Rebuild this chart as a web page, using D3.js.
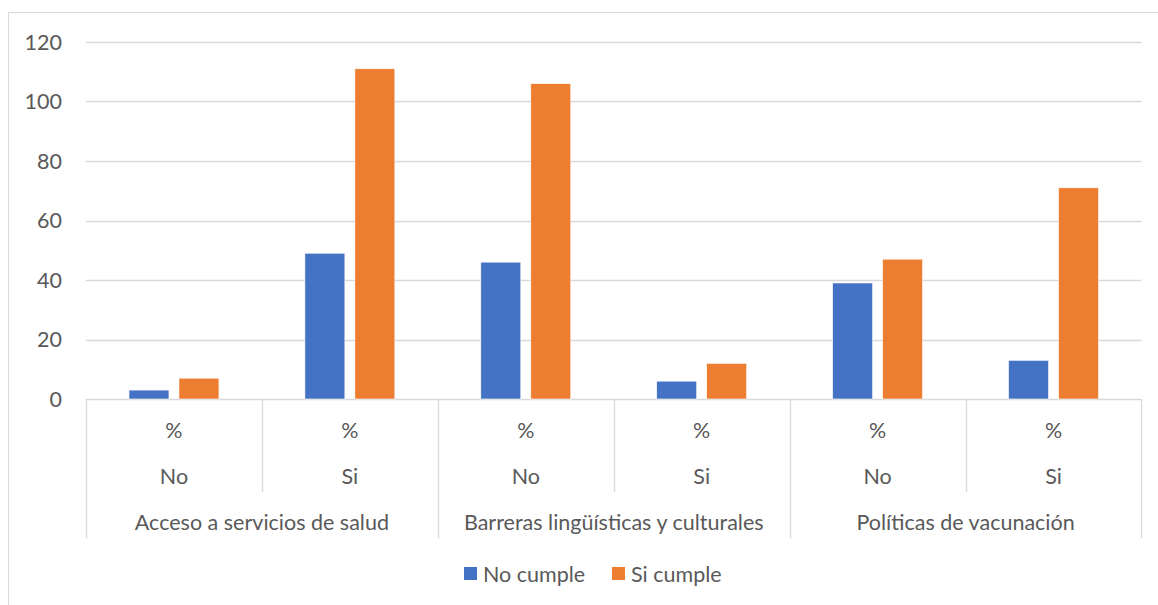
<!DOCTYPE html>
<html>
<head>
<meta charset="utf-8">
<script src="https://cdn.jsdelivr.net/npm/d3@7"></script>
<style>
  body { margin: 0; background: #fff; }
  svg text { font-family: Lato, "Open Sans", sans-serif; fill: #595959; font-size: 21.5px; }
</style>
</head>
<body>
<div id="chart"></div>
<script>
// categories (three levels on the x axis)
const groups = ["Acceso a servicios de salud", "Barreras lingüísticas y culturales", "Políticas de vacunación"];
const answers = ["No", "Si"];
const unitLabel = "%";
const seriesNames = ["No cumple", "Si cumple"];
const seriesColors = ["#4472C4", "#ED7D31"];

// values per category, in order: group x answer
const noCumple = [3, 49, 46, 6, 39, 13];
const siCumple = [7, 111, 106, 12, 47, 71];
const yTicks = [0, 20, 40, 60, 80, 100, 120];

const width = 1158, height = 605;
const margin = { left: 86, right: 1141.5, top: 42, bottom: 399 };

// build the flat category list
const cats = [];
groups.forEach((g, gi) => answers.forEach((a, ai) => {
    const i = gi * answers.length + ai;
    cats.push({ key: g + "|" + a, group: g, answer: a, values: [noCumple[i], siCumple[i]] });
}));

const svg = d3.select("#chart").append("svg")
    .attr("width", width)
    .attr("height", height);

// chart frame
svg.append("rect")
    .attr("x", 8.5).attr("y", 12.5)
    .attr("width", 1200).attr("height", 700)
    .attr("fill", "none")
    .attr("stroke", "#d9d9d9");

const x = d3.scaleBand()
    .domain(cats.map(d => d.key))
    .range([margin.left, margin.right]);

const xInner = d3.scaleBand()
    .domain([0, 1])
    .range([0, x.bandwidth()])
    .paddingInner(0.2)
    .paddingOuter(0.86);

const y = d3.scaleLinear()
    .domain([0, 120])
    .range([margin.bottom, margin.top]);

// gridlines
svg.append("g")
    .selectAll("line")
    .data(yTicks)
    .enter()
    .append("line")
    .attr("x1", margin.left)
    .attr("x2", margin.right)
    .attr("y1", d => Math.round(y(d)) + 0.5)
    .attr("y2", d => Math.round(y(d)) + 0.5)
    .attr("stroke", "#d9d9d9")
    .attr("stroke-width", 1.3);

// y axis labels
svg.append("g")
    .selectAll("text")
    .data(yTicks)
    .enter()
    .append("text")
    .attr("x", 62)
    .attr("y", d => y(d))
    .attr("dy", "0.35em")
    .attr("text-anchor", "end")
    .text(d => d);

// bars
const catG = svg.append("g")
    .selectAll("g")
    .data(cats)
    .enter()
    .append("g")
    .attr("transform", d => "translate(" + x(d.key) + ",0)");

catG.selectAll("rect")
    .data(d => d.values)
    .enter()
    .append("rect")
    .attr("x", (v, i) => xInner(i))
    .attr("width", xInner.bandwidth())
    .attr("y", v => y(v))
    .attr("height", v => y(0) - y(v))
    .attr("fill", (v, i) => seriesColors[i])
    .attr("stroke", "#fff")
    .attr("stroke-width", 0.6);

// multi-level axis lines
const axisG = svg.append("g").attr("stroke", "#d9d9d9").attr("stroke-width", 1.3);
const levelY = [399, 445, 492, 538];

cats.forEach((d, i) => {
    const xl = Math.round(x(d.key)) + 0.5;
    const isGroupEdge = i % answers.length === 0;
    axisG.append("line")
        .attr("x1", xl).attr("x2", xl)
        .attr("y1", levelY[0]).attr("y2", isGroupEdge ? levelY[3] : levelY[2]);
});
axisG.append("line")
    .attr("x1", margin.right).attr("x2", margin.right)
    .attr("y1", levelY[0]).attr("y2", levelY[3]);

// level 1 and 2 labels
svg.append("g")
    .selectAll("text")
    .data(cats)
    .enter()
    .append("text")
    .attr("x", d => x(d.key) + x.bandwidth() / 2)
    .attr("y", 430)
    .attr("dy", "0.35em")
    .attr("text-anchor", "middle")
    .text(unitLabel);

svg.append("g")
    .selectAll("text")
    .data(cats)
    .enter()
    .append("text")
    .attr("x", d => x(d.key) + x.bandwidth() / 2)
    .attr("y", 476)
    .attr("dy", "0.35em")
    .attr("text-anchor", "middle")
    .text(d => d.answer);

// group labels
svg.append("g")
    .selectAll("text")
    .data(groups)
    .enter()
    .append("text")
    .attr("x", g => x(g + "|" + answers[0]) + x.bandwidth() * answers.length / 2)
    .attr("y", 522)
    .attr("dy", "0.35em")
    .attr("text-anchor", "middle")
    .text(g => g);

// legend
const legendX = [464, 612];
const legend = svg.append("g")
    .selectAll("g")
    .data(seriesNames)
    .enter()
    .append("g")
    .attr("transform", (d, i) => "translate(" + legendX[i] + ",567)");

legend.append("rect")
    .attr("width", 13)
    .attr("height", 13)
    .attr("fill", (d, i) => seriesColors[i]);

legend.append("text")
    .attr("x", 19)
    .attr("y", 7)
    .attr("dy", "0.35em")
    .text(d => d);
</script>
</body>
</html>
